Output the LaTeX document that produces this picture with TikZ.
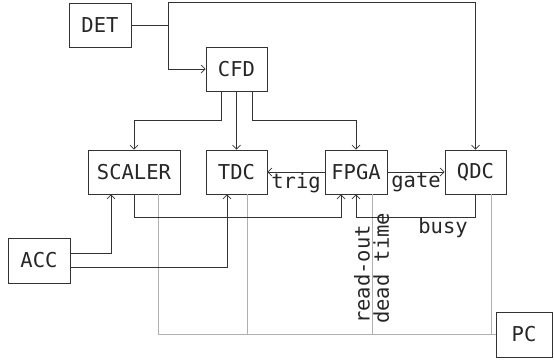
\documentclass[tikz,border=0pt]{standalone}
\usepackage{fontspec}
\setmainfont{DejaVu Sans Mono}
\usetikzlibrary{arrows.meta}
\definecolor{ln}{HTML}{333333}
\definecolor{gl}{HTML}{B0B0B0}
\begin{document}
\begin{tikzpicture}[x=1pt,y=-1pt,
  font=\fontsize{20.5}{24}\selectfont,
  box/.style={draw=ln,line width=0.7pt,minimum height=44pt,inner sep=0pt,text=black!85},
  ar/.style={draw=ln,line width=0.7pt,-{Straight Barb[length=4pt,width=8pt]}},
  gr/.style={draw=gl,line width=0.8pt},
  lab/.style={text=black!85,inner sep=1pt}]
\useasboundingbox (0,0) rectangle (554,362);
\node[box,minimum width=62pt] (DET) at (100,25) {DET};
\node[box,minimum width=61pt] (CFD) at (236.5,69) {CFD};
\node[box,minimum width=92pt] (SCALER) at (134,172) {SCALER};
\node[box,minimum width=61pt] (TDC) at (236.5,172) {TDC};
\node[box,minimum width=62pt] (FPGA) at (356,172) {FPGA};
\node[box,minimum width=61pt] (QDC) at (475.5,172) {QDC};
\node[box,minimum width=62pt,minimum height=45pt] (ACC) at (39,260.5) {ACC};
\node[box,minimum width=56pt,minimum height=45pt] (PC) at (524,334.5) {PC};
% gray read-out lines
\draw[gr] ([xshift=24pt]SCALER.south) |- (PC.west);
\draw[gr] ([xshift=10.5pt]TDC.south) |- (PC.west);
\draw[gr] ([xshift=16pt]FPGA.south) |- (PC.west);
\draw[gr] ([xshift=15.5pt]QDC.south) |- (PC.west);
% DET
\draw[ar] (DET.east) -- ++(37,0) |- (CFD.west);
\draw[ar] ([xshift=37pt]DET.east) |- (DET.north -| QDC.north) -- (QDC.north);
% CFD
\draw[ar] ([xshift=-15.5pt]CFD.south) -- ++(0,29) -| (SCALER.north);
\draw[ar] (CFD.south) -- (TDC.north);
\draw[ar] ([xshift=15.5pt]CFD.south) -- ++(0,29) -| (FPGA.north);
% FPGA outputs
\draw[ar] (FPGA.west) -- node[lab,below] (trig) {trig} (TDC.east);
\draw[ar] (FPGA.east) -- node[lab,below] (gate) {gate} (QDC.west);
% into FPGA
\draw[ar] (SCALER.south) -- ++(0,23) -| ([xshift=-15pt]FPGA.south);
\draw[ar] (QDC.south) -- ++(0,23) -| (FPGA.south);
\node[lab] (busy) at (443,228) {busy};
% ACC
\draw[ar] ([yshift=7.5pt]ACC.east) -| ([xshift=-23pt]SCALER.south);
\draw[ar] ([yshift=-6.5pt]ACC.east) -| ([xshift=-9.5pt]TDC.south);
% labels
\node[lab,rotate=90,anchor=south west] (ro) at (371,325) {read-out};
\node[lab,rotate=90,anchor=north west] (dt) at (372,325) {dead time};
\end{tikzpicture}
\end{document}
